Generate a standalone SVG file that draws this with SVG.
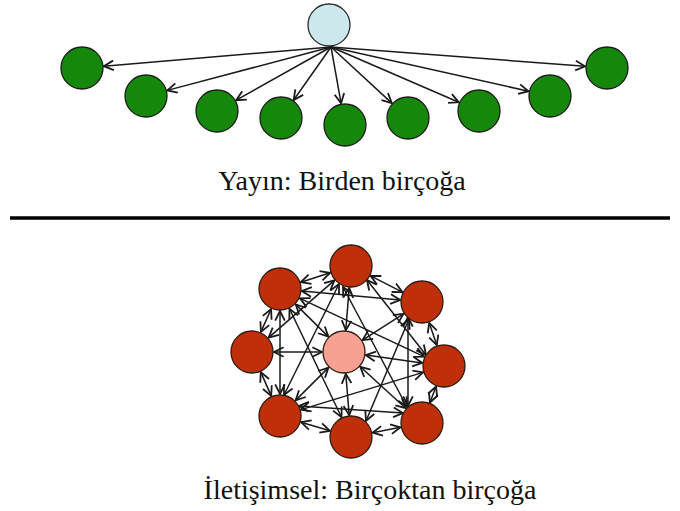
<svg xmlns="http://www.w3.org/2000/svg" width="680" height="511" viewBox="0 0 680 511">
  <style>
    .edge { stroke: #1a1a1a; stroke-width: 1.5; fill: none; }
    .one { marker-end: url(#tip); }
    .two { marker-start: url(#tip); marker-end: url(#tip); }
    .src { fill: #cde8ec; stroke: #2a2a2a; stroke-width: 1.3; }
    .leaf { fill: #15870a; stroke: #1a1a1a; stroke-width: 1.3; }
    .peer { fill: #bf2f09; stroke: #2a1a10; stroke-width: 1.3; }
    .hub { fill: #f7a193; stroke: #2a1a10; stroke-width: 1.3; }
    .caption { font-family: "Liberation Serif", "Times New Roman", serif; fill: #111; text-anchor: middle; }
  </style>
  <defs>
    <marker id="tip" markerUnits="userSpaceOnUse" markerWidth="12" markerHeight="12" viewBox="0 0 10 10" refX="9" refY="5" orient="auto-start-reverse">
      <path d="M1,1 L9,5 L1,9" fill="none" stroke="#1a1a1a" stroke-width="1.5"/>
    </marker>
  </defs>

  <rect width="680" height="511" fill="#ffffff"/>

  <!-- one-to-many: arrows out of the source -->
  <g id="broadcast-edges">
    <line class="edge one" x1="331" y1="47" x2="103.9" y2="66.2"/>
    <line class="edge one" x1="331" y1="47" x2="167.3" y2="90.4"/>
    <line class="edge one" x1="331" y1="47" x2="236.2" y2="100.2"/>
    <line class="edge one" x1="331" y1="47" x2="293.7" y2="100"/>
    <line class="edge one" x1="331" y1="47" x2="341.1" y2="103.3"/>
    <line class="edge one" x1="331" y1="47" x2="391.8" y2="103.1"/>
    <line class="edge one" x1="331" y1="47" x2="458.8" y2="102.3"/>
    <line class="edge one" x1="331" y1="47" x2="528.5" y2="91.2"/>
    <line class="edge one" x1="331" y1="47" x2="585.1" y2="66.3"/>
  </g>

  <g id="source"><circle class="src" cx="329" cy="25" r="21"/></g>
  <g id="leaf-1"><circle class="leaf" cx="82" cy="68" r="21"/></g>
  <g id="leaf-2"><circle class="leaf" cx="146" cy="96" r="21"/></g>
  <g id="leaf-3"><circle class="leaf" cx="217" cy="111" r="21"/></g>
  <g id="leaf-4"><circle class="leaf" cx="281" cy="118" r="21"/></g>
  <g id="leaf-5"><circle class="leaf" cx="345" cy="125" r="21"/></g>
  <g id="leaf-6"><circle class="leaf" cx="408" cy="118" r="21"/></g>
  <g id="leaf-7"><circle class="leaf" cx="479" cy="111" r="21"/></g>
  <g id="leaf-8"><circle class="leaf" cx="550" cy="96" r="21"/></g>
  <g id="leaf-9"><circle class="leaf" cx="607" cy="68" r="21"/></g>

  <text class="caption" x="342" y="190" font-size="28">Yayın: Birden birçoğa</text>

  <line x1="10" y1="218" x2="670" y2="218" stroke="#000" stroke-width="3.5"/>

  <!-- many-to-many: two-way links -->
  <g id="mesh-edges">
    <!-- outer ring -->
    <line class="edge two" x1="370.6" y1="275.9" x2="402.4" y2="292.1"/>
    <line class="edge two" x1="429.2" y1="322.8" x2="436.8" y2="345.2"/>
    <line class="edge two" x1="436.1" y1="386.5" x2="429.9" y2="402.5"/>
    <line class="edge two" x1="400.4" y1="427.3" x2="372.6" y2="432.7"/>
    <line class="edge two" x1="329.9" y1="430.8" x2="301.1" y2="422.2"/>
    <line class="edge two" x1="271.2" y1="395.9" x2="260.8" y2="372.1"/>
    <line class="edge two" x1="260.9" y1="331.9" x2="271.1" y2="309.1"/>
    <line class="edge two" x1="300.9" y1="282.2" x2="330.1" y2="272.8"/>
    <!-- spokes to the hub -->
    <line class="edge two" x1="345.8" y1="330.1" x2="349.2" y2="287.9"/>
    <line class="edge two" x1="362.5" y1="340.1" x2="403.5" y2="313.9"/>
    <line class="edge two" x1="365.8" y1="355.1" x2="422.2" y2="362.9"/>
    <line class="edge two" x1="360.3" y1="366.8" x2="405.7" y2="408.2"/>
    <line class="edge two" x1="345.8" y1="373.9" x2="349.2" y2="415.1"/>
    <line class="edge two" x1="328.4" y1="367.6" x2="295.6" y2="400.4"/>
    <line class="edge two" x1="322" y1="352" x2="274" y2="352"/>
    <line class="edge two" x1="328.3" y1="336.6" x2="295.7" y2="304.4"/>
    <!-- chords -->
    <line class="edge two" x1="301.9" y1="291" x2="400.1" y2="300"/>
    <line class="edge two" x1="299.9" y1="298.4" x2="424.1" y2="356.6"/>
    <line class="edge two" x1="280" y1="311" x2="280" y2="394"/>
    <line class="edge two" x1="289.5" y1="308.8" x2="341.5" y2="417.2"/>
    <line class="edge two" x1="334.4" y1="280.4" x2="268.6" y2="337.6"/>
    <line class="edge two" x1="339" y1="284" x2="284" y2="395"/>
    <line class="edge two" x1="343" y1="287" x2="407" y2="407"/>
    <line class="edge two" x1="367" y1="280" x2="426" y2="355"/>
    <line class="edge two" x1="408" y1="317" x2="408" y2="406"/>
    <line class="edge two" x1="409" y1="319" x2="366" y2="421"/>
    <line class="edge two" x1="301" y1="409.6" x2="423" y2="372.4"/>
    <line class="edge two" x1="299" y1="406" x2="403" y2="413"/>
  </g>

  <g id="peer-top"><circle class="peer" cx="351" cy="266" r="21"/></g>
  <g id="peer-upper-right"><circle class="peer" cx="422" cy="302" r="21"/></g>
  <g id="peer-right"><circle class="peer" cx="444" cy="366" r="21"/></g>
  <g id="peer-lower-right"><circle class="peer" cx="422" cy="423" r="21"/></g>
  <g id="peer-bottom"><circle class="peer" cx="351" cy="437" r="21"/></g>
  <g id="peer-lower-left"><circle class="peer" cx="280" cy="416" r="21"/></g>
  <g id="peer-left"><circle class="peer" cx="252" cy="352" r="21"/></g>
  <g id="peer-upper-left"><circle class="peer" cx="280" cy="289" r="21"/></g>
  <g id="hub"><circle class="hub" cx="344" cy="352" r="21"/></g>

  <text class="caption" x="370" y="499" font-size="28">İletişimsel: Birçoktan birçoğa</text>
</svg>
